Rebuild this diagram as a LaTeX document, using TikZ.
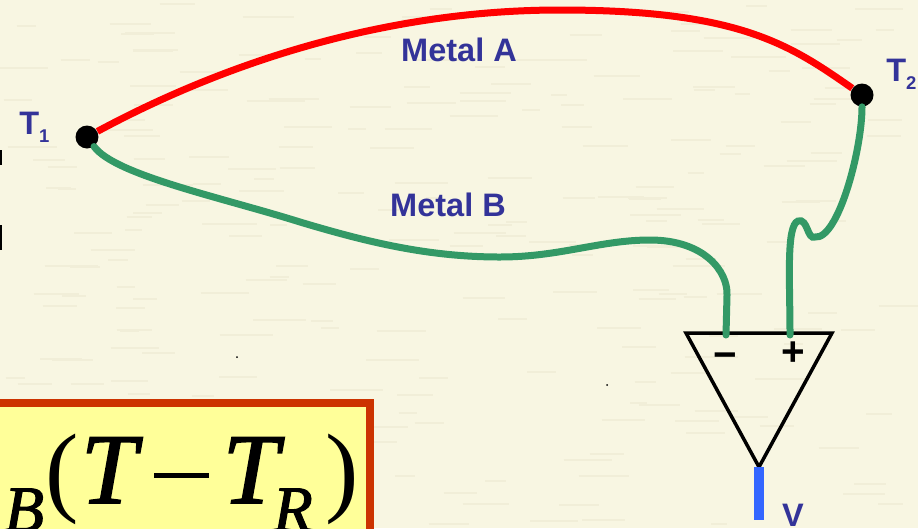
\documentclass[tikz,border=0pt]{standalone}
\usepackage{xcolor}
\usepackage{fontspec}
\setmainfont{Liberation Serif}
\setsansfont{Liberation Sans}
\newfontface\heavyItalic[FakeBold=1.6]{Liberation Serif Italic}
\definecolor{paperBg}{HTML}{F8F6E2}
\definecolor{paperStreak}{HTML}{F1EED8}
\definecolor{metalGreen}{HTML}{339966}
\definecolor{labelBlue}{HTML}{333399}
\definecolor{boxEdge}{HTML}{CC3300}
\definecolor{boxFill}{HTML}{FFFF99}
\definecolor{outBlue}{HTML}{3366FF}
\newcommand{\bigT}{{\heavyItalic T}}
\newcommand{\smallSub}[1]{\raisebox{-16pt}{\fontsize{37}{40}\selectfont\heavyItalic #1}}
\newcommand{\lowDigit}[1]{\raisebox{-5pt}{\fontsize{10.5}{12}\selectfont #1}}
\tikzset{
  junction/.style={circle,fill=black,minimum size=0.46cm,inner sep=0pt},
  wireA/.style={draw=red,line width=0.14cm},
  wireB/.style={draw=metalGreen,line width=0.14cm,line cap=round},
  metalLabel/.style={text=labelBlue,font=\sffamily\bfseries\fontsize{18.5}{20}\selectfont,inner sep=0pt},
  signLabel/.style={font=\sffamily\bfseries\fontsize{23}{25}\selectfont,inner sep=0pt}
}
\begin{document}
\begin{tikzpicture}[x=0.02cm,y=-0.02cm]
  \fill[paperBg] (0,0) rectangle (918,528);
  \useasboundingbox (0,0) rectangle (918,528);
  % paper streaks
  \pgfmathsetseed{7}
  \foreach \i in {1,...,260}{
    \pgfmathsetmacro{\sx}{rnd*880}
    \pgfmathsetmacro{\sy}{rnd*525}
    \pgfmathsetmacro{\sl}{15+rnd*40}
    \draw[paperStreak,line width=0.04cm] (\sx,\sy) -- ++(\sl,0);
  }
  \fill[black] (237,357) circle (1);
  \fill[black] (607,385) circle (1);
  \fill[black] (0,150) rectangle (2,165);
  \fill[black] (0,225) rectangle (2,250);
  % result box
  \draw[draw=boxEdge,fill=boxFill,line width=0.16cm] (-20,403) -- (370,403) -- (370,550) -- (-20,550) -- cycle;
  \begin{scope}
    \clip (0,407) rectangle (366,528);
    \node[anchor=base west,inner sep=0pt,font=\fontsize{57}{60}\selectfont] (eq) at (4,503)
      {\smallSub{B}\kern 1pt(\kern 1pt\bigT\kern 10pt\rule[14pt]{31pt}{3.2pt}\kern 8pt\bigT\kern-3pt\smallSub{R}\kern 7pt)};
  \end{scope}
  % junctions
  \node[junction] (t1) at (87,137) {};
  \node[junction] (t2) at (862,95) {};
  \node[metalLabel,anchor=base west] (t1Label) at (19,134) {T\lowDigit{1}};
  \node[metalLabel,anchor=base west] (t2Label) at (886,81) {T\lowDigit{2}};
  % amplifier
  \coordinate (ampL) at (686,333);
  \coordinate (ampR) at (832,333);
  \coordinate (ampTip) at (759,467);
  \coordinate (minusIn) at (726,335);
  \coordinate (plusIn) at (790,335);
  \coordinate (outEnd) at (759,520);
  \coordinate (bLeft) at (300,222);
  \coordinate (bMid) at (500,257);
  \coordinate (bRight) at (650,240);
  \coordinate (aMid) at (560,10);
  \coordinate (kink) at (815,237);
  \draw[black,line width=0.07cm,line join=miter] (ampL) -- (ampR) -- (ampTip) -- cycle;
  % wires
  \draw[wireB] (t1) .. controls (115,175) and (220,197) .. (bLeft)
    .. controls (370,243) and (430,257) .. (bMid)
    .. controls (560,257) and (600,240) .. (bRight)
    .. controls (705,240) and (728,272) .. (727,295)
    -- (minusIn);
  \draw[wireA] (t1) .. controls (230,60) and (390,10) .. (aMid)
    .. controls (740,10) and (790,45) .. (t2);
  \draw[wireB] (t2) .. controls (862,150) and (838,240) .. (kink)
    .. controls (807,240) and (808,218) .. (798,221)
    .. controls (786,226) and (790,280) .. (plusIn);
  \draw[outBlue,line width=0.19cm] (ampTip) -- (outEnd);
  % labels
  \node[metalLabel] (metalA) at (459,50) {Metal A};
  \node[metalLabel] (metalB) at (448,205) {Metal B};
  \node[signLabel,anchor=base] (minus) at (725,368) {−};
  \node[signLabel,anchor=base] (plus) at (793,365) {+};
  \node[metalLabel,anchor=base] (vLabel) at (793,526) {V};
\end{tikzpicture}
\end{document}
